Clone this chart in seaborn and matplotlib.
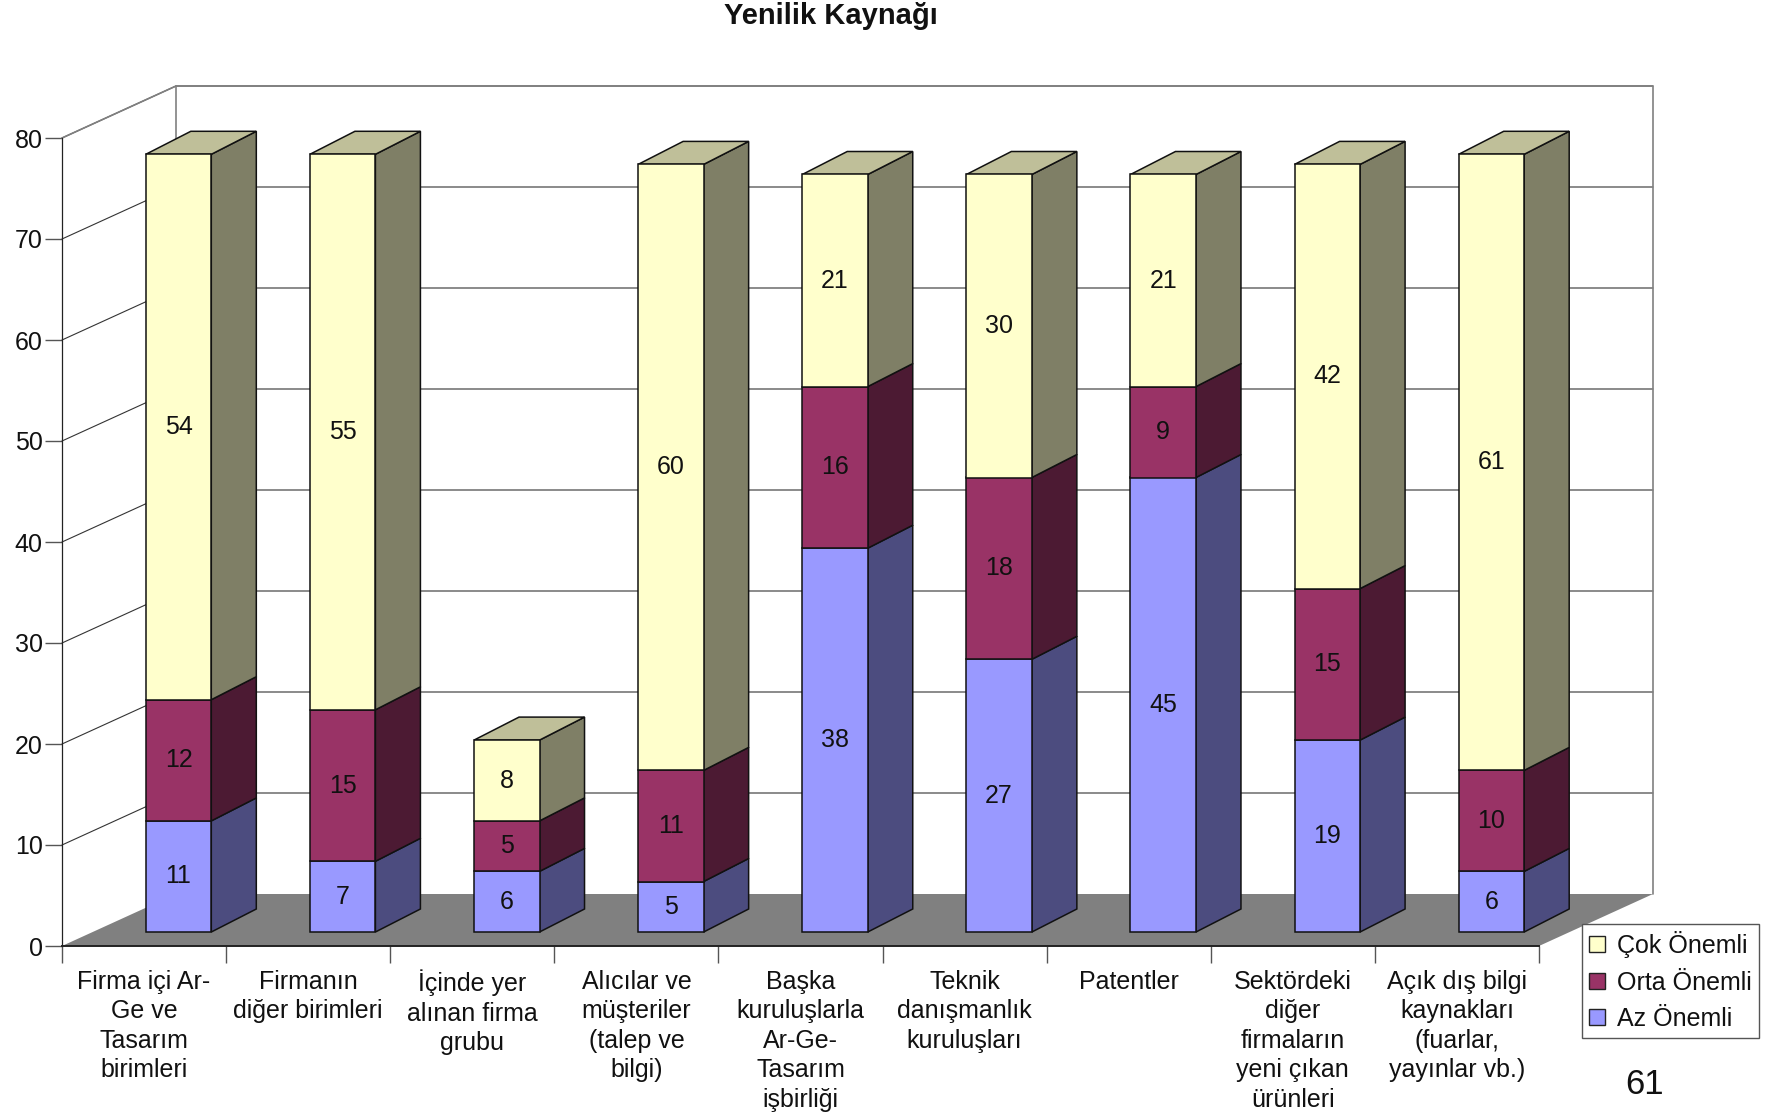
import matplotlib
matplotlib.use("Agg")
import matplotlib.pyplot as plt
from matplotlib.patches import Patch, Polygon
import numpy as np
import seaborn as sns

W, H = 1787, 1113

CATEGORIES = [
    "Firma içi Ar-\nGe ve\nTasarım\nbirimleri",
    "Firmanın\ndiğer birimleri",
    "İçinde yer\nalınan firma\ngrubu",
    "Alıcılar ve\nmüşteriler\n(talep ve\nbilgi)",
    "Başka\nkuruluşlarla\nAr-Ge-\nTasarım\nişbirliği",
    "Teknik\ndanışmanlık\nkuruluşları",
    "Patentler",
    "Sektördeki\ndiğer\nfirmaların\nyeni çıkan\nürünleri",
    "Açık dış bilgi\nkaynakları\n(fuarlar,\nyayınlar vb.)",
]
AZ = [11, 7, 6, 5, 38, 27, 45, 19, 6]
ORTA = [12, 15, 5, 11, 16, 18, 9, 15, 10]
COK = [54, 55, 8, 60, 21, 30, 21, 42, 61]
YTICKS = [0, 10, 20, 30, 40, 50, 60, 70, 80]

SERIES = [
    ("Az Önemli", AZ, "#9999FF", "#4C4C7F"),
    ("Orta Önemli", ORTA, "#993366", "#4C1A33"),
    ("Çok Önemli", COK, "#FFFFCC", "#7F7F66"),
]
TOP_COLOR = "#BFBF99"

# pixel geometry of the fake 3D box
AX_LEFT, AX_RIGHT, AX_BOTTOM, AX_TOP = 62, 1539, 946, 138
PX_X = (AX_RIGHT - AX_LEFT) / 9
PX_Y = (AX_BOTTOM - AX_TOP) / 80
WALL_DX, WALL_DY = 114 / PX_X, 52 / PX_Y
BAR_SHIFT, BAR_LIFT = 34.5 / PX_X, 14 / PX_Y
BAR_DX, BAR_DY = 45 / PX_X, 23 / PX_Y
BAR_WIDTH = 65.5 / PX_X
FONT = 18

sns.set_style("white")
plt.rcParams["font.family"] = ["Liberation Sans", "DejaVu Sans"]

fig = plt.figure(figsize=(W / 100, H / 100), dpi=100)
ax = fig.add_axes([AX_LEFT / W, 1 - AX_BOTTOM / H, (AX_RIGHT - AX_LEFT) / W, (AX_BOTTOM - AX_TOP) / H])
ax.patch.set_visible(False)

base = np.full(9, BAR_LIFT)
for name, values, face, side in SERIES:
    sns.barplot(x=CATEGORIES, y=values, bottom=base, color=face, saturation=1,
                width=BAR_WIDTH, edgecolor="#111111", linewidth=1.1, ax=ax, zorder=5)
    cont = ax.containers[-1]
    for p in cont.patches:
        p.set_x(p.get_x() + BAR_SHIFT)
        x1 = p.get_x() + BAR_WIDTH
        y0, y1 = p.get_y(), p.get_y() + p.get_height()
        ax.add_patch(Polygon([(x1, y0), (x1 + BAR_DX, y0 + BAR_DY), (x1 + BAR_DX, y1 + BAR_DY), (x1, y1)],
                             facecolor=side, edgecolor="#111111", lw=1.1, zorder=4, clip_on=False))
        if name == "Çok Önemli":
            x0 = p.get_x()
            ax.add_patch(Polygon([(x0, y1), (x1, y1), (x1 + BAR_DX, y1 + BAR_DY), (x0 + BAR_DX, y1 + BAR_DY)],
                                 facecolor=TOP_COLOR, edgecolor="#111111", lw=1.1, zorder=4, clip_on=False))
    ax.bar_label(cont, labels=[str(v) for v in values], label_type="center", fontsize=FONT, color="#111111", zorder=6)
    base = base + np.array(values)

xl, xr = -0.5, 8.5

# floor and walls
ax.add_patch(Polygon([(xl, 0), (xr, 0), (xr + WALL_DX, WALL_DY), (xl + WALL_DX, WALL_DY)],
                     facecolor="#808080", edgecolor="none", zorder=1, clip_on=False))
for t in YTICKS[1:]:
    ax.plot([xl, xl + WALL_DX, xr + WALL_DX], [t, t + WALL_DY, t + WALL_DY], color="#333333",
            lw=0.8, zorder=2, clip_on=False)
ax.plot([xl, xl + WALL_DX, xr + WALL_DX, xr + WALL_DX], [80, 80 + WALL_DY, 80 + WALL_DY, WALL_DY],
        color="#808080", lw=1.2, zorder=2, clip_on=False)
ax.plot([xl + WALL_DX, xl + WALL_DX], [WALL_DY, 80 + WALL_DY], color="#808080", lw=1.2, zorder=2, clip_on=False)

ax.set_xlim(xl, xr)
ax.set_ylim(0, 80)
ax.set_yticks(YTICKS)
ax.set_xticks(np.arange(-0.5, 9, 1), minor=True)
ax.tick_params(axis="y", length=12, width=1, color="#555555", pad=2, labelsize=FONT, labelcolor="#111111", left=True)
ax.tick_params(axis="x", which="major", length=0, pad=17, labelsize=FONT, labelcolor="#111111")
ax.tick_params(axis="x", which="minor", length=12, width=1, color="#555555", bottom=True)
for lab in ax.get_xticklabels():
    lab.set_linespacing(1.29)
sns.despine(ax=ax, top=True, right=True)
ax.spines["left"].set_color("#222222")
ax.spines["left"].set_linewidth(0.9)
ax.spines["bottom"].set_color("#222222")
ax.spines["bottom"].set_linewidth(1.4)
ax.spines["left"].set_zorder(3)
ax.spines["bottom"].set_zorder(3)
ax.set_xlabel("")
ax.set_ylabel("")

handles = [Patch(facecolor=s[2], edgecolor="#222222", label=s[0]) for s in reversed(SERIES)]
leg = ax.legend(handles=handles, loc="upper left", bbox_to_anchor=(1582 / W, 1 - 924 / H),
                bbox_transform=fig.transFigure, borderaxespad=0, fontsize=FONT, frameon=True,
                fancybox=False, framealpha=1, edgecolor="#555555", handlelength=0.62, handleheight=0.62,
                handletextpad=0.5, labelspacing=0.5, borderpad=0.28, labelcolor="#111111")
leg.set_zorder(10)
leg.get_frame().set_linewidth(1.0)

fig.text(831 / W, 1 - 16 / H, "Yenilik Kaynağı", ha="center", va="center", fontsize=21, fontweight="bold", color="#111111")
fig.text(1645 / W, 1 - 1084 / H, "61", ha="center", va="center", fontsize=25, color="#111111")

fig.savefig("out.png", dpi=100)
